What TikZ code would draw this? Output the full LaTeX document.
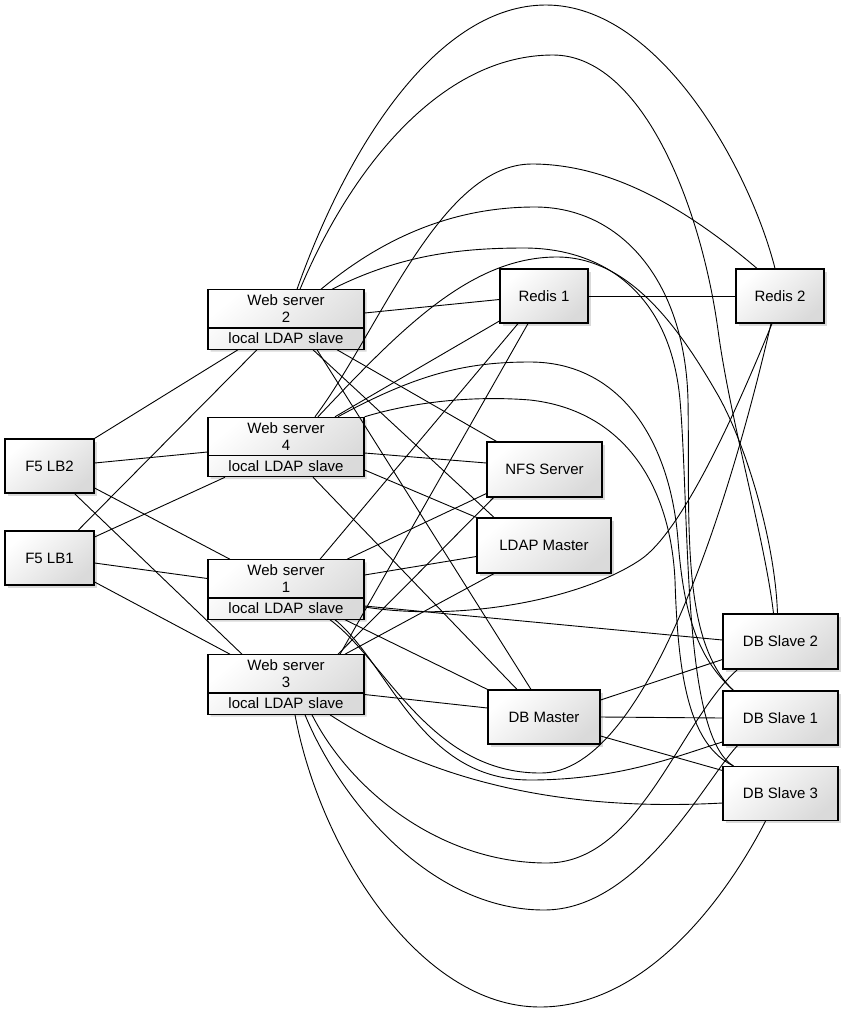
\documentclass[tikz,border=0pt]{standalone}
\usepackage{fontspec}
\setmainfont{Liberation Sans}
\usetikzlibrary{shapes.multipart,shadows}

\definecolor{boxgray}{HTML}{DADADA}

\begin{document}
\begin{tikzpicture}[x=1pt,y=-1pt,line width=0.9pt,
    box/.style={draw, line width=1.2pt, top color=white, bottom color=boxgray,
        shading angle=40, inner sep=0pt,
        drop shadow={shadow xshift=2.5pt,shadow yshift=-2.5pt,opacity=.3},
        font=\fontsize{15}{17}\selectfont},
    server/.style={box, rectangle split, rectangle split parts=2,
        text width=148pt, align=center, inner xsep=4pt, inner ysep=4.5pt}]

\useasboundingbox (0,0) rectangle (843,1013);

% load balancers
\node [box, minimum width=89pt, minimum height=54pt] (lb2) at (49.5,466) {F5 LB2};
\node [box, minimum width=89pt, minimum height=54pt] (lb1) at (49.5,558) {F5 LB1};

% web servers
\node [server] (ws2) at (286,319.5) {Web server\\2 \nodepart{two} local LDAP slave};
\node [server] (ws4) at (286,447) {Web server\\4 \nodepart{two} local LDAP slave};
\node [server] (ws1) at (286,589.5) {Web server\\1 \nodepart{two} local LDAP slave};
\node [server] (ws3) at (286,684.5) {Web server\\3 \nodepart{two} local LDAP slave};

% services
\node [box, minimum width=88pt, minimum height=54pt] (redis1) at (544,296) {Redis 1};
\node [box, minimum width=88pt, minimum height=54pt] (redis2) at (780,296) {Redis 2};
\node [box, minimum width=115pt, minimum height=55pt] (nfs) at (544.5,469.5) {NFS Server};
\node [box, minimum width=134pt, minimum height=55pt] (ldap) at (544,545.5) {LDAP Master};
\node [box, minimum width=112pt, minimum height=54pt] (dbm) at (544,717) {DB Master};
\node [box, minimum width=115pt, minimum height=55pt] (dbs2) at (780.5,641.5) {DB Slave 2};
\node [box, minimum width=115pt, minimum height=54pt] (dbs1) at (780.5,718) {DB Slave 1};
\node [box, minimum width=115pt, minimum height=54pt] (dbs3) at (780.5,793.5) {DB Slave 3};

% load balancers to web servers
\draw (lb2.north east) -- ([xshift=-48pt]ws2.south);
\draw ([xshift=28.5pt]lb1.north) -- ([xshift=-29pt]ws2.south);
\draw ([yshift=3pt]lb2.east) -- ([yshift=-5pt]ws4.west);
\draw ([yshift=21pt]lb1.east) -- ([xshift=-61pt]ws4.south);
\draw ([yshift=-22pt]lb2.east) -- ([xshift=-56pt]ws1.north);
\draw ([yshift=-5pt]lb1.east) -- ([yshift=11pt]ws1.west);
\draw ([xshift=25pt]lb2.south) -- ([xshift=-44pt]ws3.north);
\draw ([yshift=-24pt]lb1.east) -- ([xshift=-56pt]ws3.north);

% redis
\draw ([yshift=6.5pt]ws2.east) -- ([yshift=-3.5pt]redis1.west);
\draw ([xshift=49pt]ws4.north) -- ([yshift=-25pt]redis1.west);
\draw ([xshift=34pt]ws1.north) -- ([xshift=-26pt]redis1.south);
\draw ([xshift=54pt]ws3.north) -- ([xshift=-16pt]redis1.south);
\draw (redis1) -- (redis2);

% nfs and ldap
\draw ([xshift=51pt]ws2.south) -- ([xshift=-48pt]nfs.north);
\draw ([yshift=-6pt]ws4.east) -- ([yshift=6.5pt]nfs.west);
\draw ([xshift=61pt]ws1.north) -- ([yshift=-24pt]nfs.west);
\draw ([xshift=52pt]ws3.north) -- ([xshift=-51pt]nfs.south);
\draw ([xshift=27pt]ws2.south) -- ([xshift=-50pt]ldap.north);
\draw ([yshift=-23pt]ws4.east) -- (ldap.north west);
\draw ([yshift=14.5pt]ws1.east) -- ([yshift=-11pt]ldap.west);
\draw ([xshift=59pt]ws3.north) -- ([xshift=-50pt]ldap.south);

% db master
\draw ([xshift=31pt]ws2.south) -- ([xshift=-13pt]dbm.north);
\draw ([xshift=27pt]ws4.south) -- ([xshift=-27pt]dbm.north);
\draw ([xshift=59pt]ws1.south) -- (dbm.north west);
\draw ([yshift=-10pt]ws3.east) -- ([yshift=9pt]dbm.west);
\draw ([yshift=17pt]dbm.east) -- ([yshift=-18pt]dbs2.west);
\draw (dbm.east) -- (dbs1.west);
\draw ([yshift=-19pt]dbm.east) -- ([yshift=23pt]dbs3.west);
\draw ([yshift=-16.5pt]ws1.east) -- ([yshift=1.5pt]dbs2.west);

% arcs over the top
\draw ([xshift=11pt]ws2.north) .. controls (350,140) and (440,5) .. (546,5)
    .. controls (660,5) and (750,170) .. ([xshift=-5pt]redis2.north);
\draw ([xshift=29pt]ws4.north) .. controls (380,330) and (440,164) .. (532,164)
    .. controls (620,164) and (700,220) .. ([xshift=-23pt]redis2.north);
\draw ([xshift=14pt]ws2.north) .. controls (350,170) and (440,55) .. (553,55)
    .. controls (640,55) and (700,200) .. (718,330)
    .. controls (730,420) and (765,540) .. ([xshift=-7pt]dbs2.north);
\draw ([xshift=35pt]ws2.north) .. controls (380,240) and (450,207) .. (535,207)
    .. controls (620,207) and (685,280) .. (688,400)
    .. controls (690,520) and (680,640) .. ([xshift=11pt]dbs1.north west);
\draw ([xshift=46pt]ws2.north) .. controls (400,255) and (460,248) .. (524,248)
    .. controls (600,248) and (670,290) .. (680,400)
    .. controls (690,520) and (682,735) .. ([xshift=11pt]dbs3.north west);
\draw ([xshift=32pt]ws4.north) .. controls (400,330) and (470,257) .. (557,257)
    .. controls (630,257) and (680,330) .. (715,390)
    .. controls (745,440) and (775,540) .. ([xshift=-3pt]dbs2.north);
\draw ([xshift=52pt]ws4.north) .. controls (420,372) and (470,362) .. (530,362)
    .. controls (620,362) and (670,440) .. (678,540)
    .. controls (684,620) and (700,660) .. ([xshift=11pt]dbs1.north west);
\draw (ws4.north east) .. controls (420,400) and (480,396) .. (530,400)
    .. controls (620,410) and (670,480) .. (675,580)
    .. controls (678,680) and (690,745) .. ([xshift=11pt]dbs3.north west);

% curves from web server 1
\draw ([yshift=-17.5pt]ws1.east) .. controls (460,622) and (580,600) .. (640,560)
    .. controls (685,530) and (742,397) .. ([xshift=-8pt]redis2.south);
\draw ([xshift=44pt]ws1.south) .. controls (385,660) and (430,773) .. (540,773)
    .. controls (650,775) and (735,480) .. ([xshift=-9pt]redis2.south);
\draw ([xshift=49pt]ws1.south) .. controls (390,665) and (420,780) .. (530,780)
    .. controls (620,780) and (680,755) .. ([yshift=-24pt]dbs1.west);

% curves below from web server 3
\draw ([xshift=44pt]ws3.south) .. controls (430,780) and (560,812) .. ([yshift=-9.5pt]dbs3.west);
\draw ([xshift=9pt]ws3.south) .. controls (320,850) and (420,1007) .. (540,1007)
    .. controls (650,1007) and (730,890) .. ([xshift=-15pt]dbs3.south);
\draw ([xshift=19pt]ws3.south) .. controls (340,800) and (430,910) .. (544,910)
    .. controls (640,910) and (705,780) .. ([xshift=-43pt]dbs1.south);
\draw ([xshift=26pt]ws3.south) .. controls (350,790) and (440,863) .. (547,863)
    .. controls (640,863) and (680,720) .. ([xshift=-43pt]dbs2.south);

\end{tikzpicture}
\end{document}
